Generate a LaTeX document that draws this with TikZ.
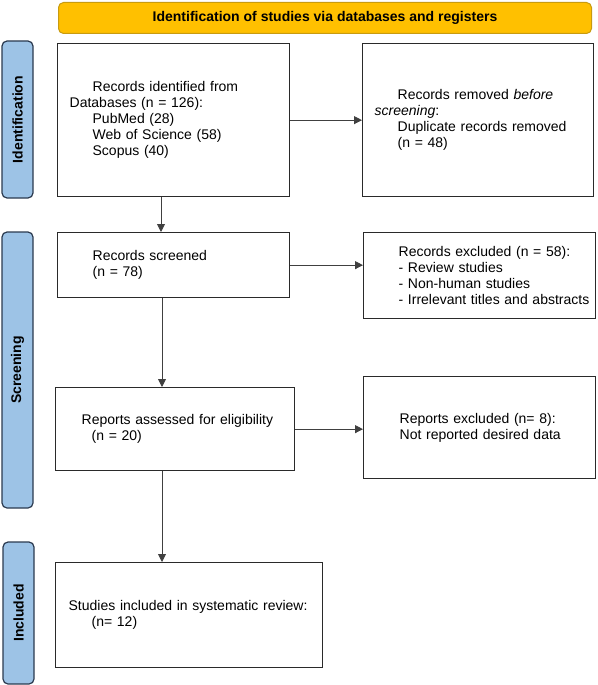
\documentclass[tikz,border=0pt]{standalone}
\usepackage{fontspec}
\setmainfont{Liberation Sans}
\usetikzlibrary{arrows.meta}
\definecolor{barblue}{HTML}{9DC3E6}
\definecolor{barline}{HTML}{2B3A4F}
\definecolor{gold}{HTML}{FFC000}
\definecolor{goldline}{HTML}{C89B10}
\definecolor{boxline}{HTML}{2A2A2A}
\definecolor{arrowline}{HTML}{404040}
\begin{document}
\begin{tikzpicture}[x=1pt,y=-1pt,
  box/.style={draw=boxline,line width=1.3pt,fill=white,align=left,anchor=north west,
    inner xsep=2pt,inner ysep=0pt,font=\fontsize{14}{16}\selectfont},
  bar/.style={draw=barline,line width=1.2pt,fill=barblue,rounded corners=5pt,rotate=90,
    inner sep=0pt,font=\bfseries\fontsize{14}{16}\selectfont},
  arr/.style={draw=arrowline,line width=0.9pt,-{Triangle[length=8pt,width=8pt]}}
]
\useasboundingbox (0,0) rectangle (597,685);

% banner
\node[draw=goldline,line width=1pt,fill=gold,rounded corners=5pt,anchor=north west,
  minimum width=533pt,minimum height=31pt,inner sep=0pt,
  font=\bfseries\fontsize{14}{16}\selectfont] (banner) at (58,2)
  {Identification of studies via databases and registers};

% side bars
\node[bar,minimum width=157pt,minimum height=31pt] (idbar) at (17.5,119.5) {Identification};
\node[bar,minimum width=276pt,minimum height=31pt] (scbar) at (17.5,370) {Screening};
\node[bar,minimum width=142pt,minimum height=31pt] (inbar) at (18.5,613) {Included};

% boxes
\node[box,text width=228pt,minimum height=153pt] (b1) at (57,43)
  {\hspace*{33pt}Records identified from\\
   \hspace*{10pt}Databases (n = 126):\\
   \hspace*{33pt}PubMed (28)\\
   \hspace*{33pt}Web of Science (58)\\
   \hspace*{33pt}Scopus (40)};
\node[box,text width=227pt,minimum height=153pt] (b2) at (362,43)
  {\hspace*{33pt}Records removed \textit{before}\\
   \hspace*{10pt}\textit{screening}:\\
   \hspace*{33pt}Duplicate records removed\\
   \hspace*{33pt}(n = 48)};
\node[box,text width=228pt,minimum height=65pt] (b3) at (57,232)
  {\hspace*{33pt}Records screened\\
   \hspace*{33pt}(n = 78)};
\node[box,text width=228pt,minimum height=86pt] (b4) at (363,232)
  {\hspace*{33pt}Records excluded (n = 58):\\
   \hspace*{33pt}- Review studies\\
   \hspace*{33pt}- Non-human studies\\
   \hspace*{33pt}- Irrelevant titles and abstracts};
\node[box,text width=235pt,minimum height=83pt] (b5) at (55,387)
  {\hspace*{24pt}Reports assessed for eligibility\\
   \hspace*{34pt}(n = 20)};
\node[box,text width=228pt,minimum height=102pt] (b6) at (363,376)
  {\hspace*{34pt}Reports excluded (n= 8):\\
   \hspace*{34pt}Not reported desired data};
\node[box,text width=263pt,minimum height=105pt] (b7) at (55,562)
  {\hspace*{11pt}Studies included in systematic review:\\
   \hspace*{34pt}(n= 12)};

% connectors
\coordinate (c1) at (161,0);
\coordinate (c2) at (162,0);
\draw[arr] (b1.south -| c1) -- (b3.north -| c1);
\draw[arr] (b1.east) -- (b2.west);
\draw[arr] (b3.east) -- (b3.east -| b4.west);
\draw[arr] (b3.south -| c2) -- (b5.north -| c2);
\draw[arr] (b5.east) -- (b5.east -| b6.west);
\draw[arr] (b5.south -| c2) -- (b7.north -| c2);
\end{tikzpicture}
\end{document}
